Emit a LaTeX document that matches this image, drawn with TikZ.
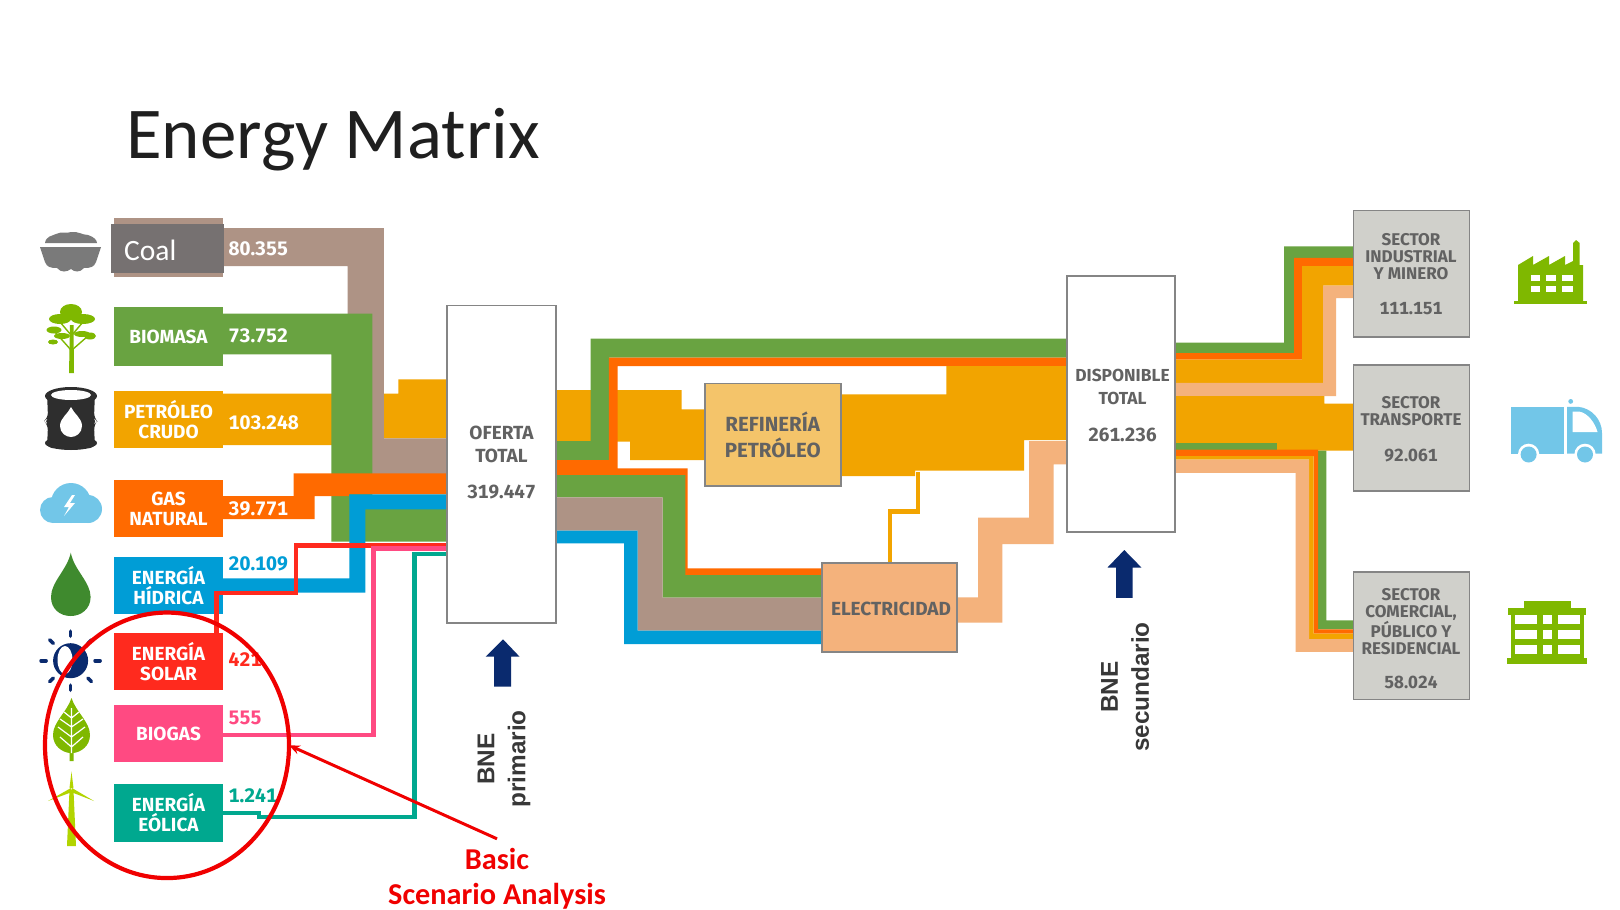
\documentclass[tikz,border=0pt]{standalone}
\usepackage{fontspec}
\setmainfont[Numbers=Monospaced]{Fira Sans}
\newfontfamily\carl{Carlito}
\newfontfamily\libs{Liberation Sans}
\usetikzlibrary{arrows.meta,shapes.geometric}
\definecolor{cbrown}{HTML}{AE9385}
\definecolor{cgreen}{HTML}{69A341}
\definecolor{corange}{HTML}{F2A400}
\definecolor{cgas}{HTML}{FF6A00}
\definecolor{cblue}{HTML}{009DD6}
\definecolor{cred}{HTML}{FF2A1E}
\definecolor{cpink}{HTML}{FF4A82}
\definecolor{cteal}{HTML}{00A88F}
\definecolor{cpeach}{HTML}{F4B27C}
\definecolor{cgray}{HTML}{D0D0CB}
\definecolor{cedge}{HTML}{858585}
\definecolor{ctext}{HTML}{626262}
\definecolor{cnavy}{HTML}{0A2A6E}
\definecolor{clime}{HTML}{7FB800}
\definecolor{csky}{HTML}{72C6E8}
\definecolor{cmark}{HTML}{F00000}
\definecolor{crefi}{HTML}{F4C46A}
\definecolor{cdrop}{HTML}{3F8A2E}
\definecolor{ccoal}{HTML}{767171}
\newcommand{\lblfont}{\fontsize{19}{20}\selectfont\bfseries}
\newcommand{\secfont}{\fontsize{17}{17}\selectfont\bfseries}
\newcommand{\midfont}{\fontsize{19}{18}\selectfont\bfseries}
\newcommand{\valfont}{\fontsize{19.5}{22}\selectfont\bfseries}
\newcommand{\numfont}{\fontsize{19}{22}\selectfont\bfseries}
\newcommand{\bnefont}{\libs\fontsize{24.3}{31}\selectfont\bfseries}
\tikzset{
  srcbox/.style={minimum width=108.3pt,inner sep=0pt,outer sep=0pt,text=white,font=\lblfont,align=center},
  val/.style={anchor=west,inner sep=0pt,font=\valfont},
  whitebox/.style={draw=cedge,line width=1.6pt,fill=white,inner sep=0pt,outer sep=0pt},
  sector/.style={draw=cedge,line width=1.6pt,fill=cgray,minimum width=116pt,inner sep=0pt,outer sep=0pt},
  stxt/.style={inner sep=0pt,text=ctext,font=\secfont,align=center},
  mtxt/.style={inner sep=0pt,text=ctext,font=\midfont,align=center},
  ntxt/.style={inner sep=0pt,text=ctext,font=\numfont},
  wiredraw/.style={line width=4.6pt,line join=miter},
  bne/.style={rotate=90,inner sep=0pt,align=center,font=\bnefont,text=black!78},
  navyarrow/.style={fill=cnavy},
  iconwhite/.style={fill=white}
}
\begin{document}
\begin{tikzpicture}[x=1pt,y=-1pt]
\useasboundingbox (0,0) rectangle (1620,910);
\fill[white] (0,0) rectangle (1620,910);
% title
\node[anchor=base west,inner sep=0pt,text=black!88,font=\carl\fontsize{73}{80}\selectfont] (title) at (126,158) {Energy Matrix};

% ---------- bands left of OFERTA
\fill[corange] (222.7,393.7) -- (398.4,393.7) -- (398.4,379.3) -- (447,379.3) -- (447,438.3) -- (372,438.3) -- (372,445) -- (222.7,445) -- cycle;
\fill[cbrown] (222.7,228) -- (383.8,228) -- (383.8,438.3) -- (447,438.3) -- (447,474) -- (347.5,474) -- (347.5,266) -- (222.7,266) -- cycle;
\fill[cgreen] (222.7,313.7) -- (372.4,313.7) -- (372.4,509) -- (447,509) -- (447,541.7) -- (331.4,541.7) -- (331.4,354.3) -- (222.7,354.3) -- cycle;
\fill[cgas] (222.7,496) -- (293.5,496) -- (293.5,473.3) -- (447,473.3) -- (447,494.3) -- (349,494.3) -- (349,496) -- (314.6,496) -- (314.6,519) -- (222.7,519) -- cycle;
\fill[cblue] (222,578.3) -- (349.4,578.3) -- (349.4,494.3) -- (447,494.3) -- (447,509.3) -- (365.4,509.3) -- (365.4,592.7) -- (222,592.7) -- cycle;

% ---------- source boxes
\node[srcbox,fill=cbrown,minimum height=59.6pt] (carbon) at (168.5,247.5) {};
\node[srcbox,fill=cgreen,minimum height=59pt] (biomasa) at (168.5,336.5) {BIOMASA};
\node[srcbox,fill=corange,minimum height=57.3pt] (petroleo) at (168.5,419.7) {PETRÓLEO\\CRUDO};
\node[srcbox,fill=cgas,minimum height=57pt] (gas) at (168.5,508.5) {GAS\\NATURAL};
\node[srcbox,fill=cblue,minimum height=57.3pt] (hidrica) at (168.5,585.3) {ENERGÍA\\HÍDRICA};
\node[srcbox,fill=cred,minimum height=57pt] (solar) at (168.5,661.5) {ENERGÍA\\SOLAR};
\node[srcbox,fill=cpink,minimum height=57pt] (biogas) at (168.5,733.5) {BIOGAS};
\node[srcbox,fill=cteal,minimum height=57.7pt] (eolica) at (168.5,812.8) {ENERGÍA\\EÓLICA};
\node[anchor=west,fill=ccoal,minimum width=113pt,minimum height=49.3pt,inner sep=0pt,outer sep=0pt] (coalbox) at (111,248.6) {};
\node[anchor=west,inner sep=0pt,text=white,font=\carl\fontsize{29.5}{32}\selectfont] (coal) at (124,250) {Coal};

% thin inflows
\coordinate (redin) at (447,545.5);
\coordinate (pinkin) at (447,548.3);
\coordinate (tealin) at (447,554);
\draw[wiredraw,cred] (216.3,633) -- (216.3,593) -- (296,593) -- (296,545.5) -- (redin);
\draw[wiredraw,cpink] (biogas.east |- 0,735) -- (373.5,735) -- (373.5,548.3) -- (pinkin);
\draw[cteal,line width=4.2pt] (eolica.east |- 0,813) -- (259,813) -- (259,817) -- (414.5,817) -- (414.5,554) -- (tealin);

% values
\node[val,text=white] (v1) at (228.5,248.7) {80.355};
\node[val,text=white] (v2) at (228.5,336) {73.752};
\node[val,text=white] (v3) at (228.5,422.7) {103.248};
\node[val,text=white] (v4) at (228.5,509) {39.771};
\node[val,text=cblue] (v5) at (228.5,564) {20.109};
\node[val,text=cred] (v6) at (228.5,660) {421};
\node[val,text=cpink] (v7) at (228.5,717.7) {555};
\node[val,text=cteal] (v8) at (228.5,796) {1.241};

% ---------- middle bands
\fill[corange] (556,390) -- (681.6,390) -- (681.6,409.3) -- (705.3,409.3) -- (705.3,460) -- (630,460) -- (630,441.7) -- (556,441.7) -- cycle;
\fill[cgreen] (556,441) -- (590.5,441) -- (590.5,338.7) -- (1067.4,338.7) -- (1067.4,357.7) -- (609,357.7) -- (609,460) -- (556,460) -- cycle;
\fill[cgas] (556,460) -- (608.9,460) -- (608.9,357.7) -- (1067.4,357.7) -- (1067.4,366) -- (617.7,366) -- (617.7,468.3) -- (687.7,468.3) -- (687.7,568.3) -- (822,568.3) -- (822,575) -- (685,575) -- (685,475) -- (556,475) -- cycle;
\fill[cgreen] (556,475) -- (685.4,475) -- (685.4,575) -- (822,575) -- (822,597.7) -- (662.5,597.7) -- (662.5,497.3) -- (556,497.3) -- cycle;
\fill[cbrown] (556,497.3) -- (662.5,497.3) -- (662.5,597.7) -- (822,597.7) -- (822,630.7) -- (637.6,630.7) -- (637.6,530.7) -- (556,530.7) -- cycle;
\fill[cblue] (556,530.7) -- (637.6,530.7) -- (637.6,630.7) -- (822,630.7) -- (822,644) -- (624.2,644) -- (624.2,543.3) -- (556,543.3) -- cycle;
\fill[corange] (840.8,394.3) -- (946.4,394.3) -- (946.4,366) -- (1067.4,366) -- (1067.4,440) -- (1024,440) -- (1024,470.7) -- (915,470.7) -- (915,476) -- (840.8,476) -- cycle;
\draw[corange,line width=4.6pt] (918,472) -- (918,511.3) -- (889.8,511.3) -- (889.8,563);
\fill[cpeach] (957,597.3) -- (978.2,597.3) -- (978.2,517.7) -- (1029,517.7) -- (1029,441) -- (1067.4,441) -- (1067.4,464.3) -- (1053.6,464.3) -- (1053.6,544) -- (1002.3,544) -- (1002.3,622.7) -- (957,622.7) -- cycle;

% ---------- right bands
\fill[cgreen] (1175,342.5) -- (1284,342.5) -- (1284,246.4) -- (1353.6,246.4) -- (1353.6,257.9) -- (1294,257.9) -- (1294,353.2) -- (1175,353.2) -- cycle;
\fill[cgas] (1175,353.2) -- (1294,353.2) -- (1294,257.9) -- (1353.6,257.9) -- (1353.6,266) -- (1302,266) -- (1302,359.6) -- (1175,359.6) -- cycle;
\fill[corange] (1175,359.6) -- (1302,359.6) -- (1302,266) -- (1353.6,266) -- (1353.6,285.7) -- (1323,285.7) -- (1323,382.9) -- (1175,382.9) -- cycle;
\fill[cpeach] (1175,382.9) -- (1323,382.9) -- (1323,285.7) -- (1353.6,285.7) -- (1353.6,298.2) -- (1336,298.2) -- (1336,396) -- (1175,396) -- cycle;
\fill[corange] (1175,396) -- (1324.3,396) -- (1324.3,403.6) -- (1353.6,403.6) -- (1353.6,450.7) -- (1175,450.7) -- cycle;
\fill[cgreen] (1175,442.5) rectangle (1276.8,449.6);
\fill[cgreen] (1318,450.7) -- (1326.4,450.7) -- (1326.4,620.4) -- (1353.6,620.4) -- (1353.6,629.3) -- (1318,629.3) -- cycle;
\fill[cgas] (1175,449.6) -- (1318,449.6) -- (1318,629.3) -- (1353.6,629.3) -- (1353.6,633.6) -- (1313.6,633.6) -- (1313.6,456) -- (1175,456) -- cycle;
\fill[corange] (1175,456) -- (1313.6,456) -- (1313.6,633.6) -- (1353.6,633.6) -- (1353.6,639) -- (1309,639) -- (1309,459.6) -- (1175,459.6) -- cycle;
\fill[cpeach] (1175,459.6) -- (1309,459.6) -- (1309,639) -- (1353.6,639) -- (1353.6,651.8) -- (1295.7,651.8) -- (1295.7,472.9) -- (1175,472.9) -- cycle;

% ---------- central boxes
\node[whitebox,minimum width=109pt,minimum height=317.3pt] (oferta) at (501.5,464.3) {};
\node[mtxt] (oft) at (501.5,444) {OFERTA\\[5pt]TOTAL};
\node[ntxt] (ofv) at (501.5,491.7) {319.447};
\node[draw=cedge,line width=1.6pt,fill=crefi,minimum width=135.5pt,minimum height=102.4pt,inner sep=0pt,outer sep=0pt] (refi) at (773,434.5) {};
\node[mtxt,font=\fontsize{20.5}{19}\selectfont\bfseries] (reft) at (772.7,435) {REFINERÍA\\[6pt]PETRÓLEO};
\node[draw=cedge,line width=1.6pt,fill=cpeach,minimum width=135pt,minimum height=89pt,inner sep=0pt,outer sep=0pt] (elec) at (889.5,607.2) {};
\node[mtxt] (elect) at (891,609.3) {ELECTRICIDAD};
\node[whitebox,minimum width=108pt,minimum height=255.8pt] (disp) at (1121,403.9) {};
\node[stxt,font=\fontsize{17.4}{18}\selectfont\bfseries] (dispt) at (1122.5,387) {DISPONIBLE\\[5pt]TOTAL};
\node[ntxt] (dispv) at (1122.5,434.6) {261.236};

% sectors
\node[sector,minimum height=126.6pt] (s1) at (1411.6,273.7) {};
\node[stxt] (s1t) at (1411,257) {SECTOR\\INDUSTRIAL\\Y MINERO};
\node[ntxt,font=\fontsize{17.5}{20}\selectfont\bfseries] (s1v) at (1411,309) {111.151};
\node[sector,minimum height=125.7pt] (s2) at (1411.6,427.9) {};
\node[stxt] (s2t) at (1411,411.2) {SECTOR\\TRANSPORTE};
\node[ntxt,font=\fontsize{17.5}{20}\selectfont\bfseries] (s2v) at (1411,455.4) {92.061};
\node[sector,minimum height=127.6pt] (s3) at (1411.6,635.8) {};
\node[stxt] (s3t) at (1411,621.6) {SECTOR\\COMERCIAL,\\PÚBLICO Y\\RESIDENCIAL};
\node[ntxt,font=\fontsize{17.5}{20}\selectfont\bfseries] (s3v) at (1411,682) {58.024};

% ---------- up arrows and labels
\fill[navyarrow] (503,639.3) -- (519.6,656.7) -- (511,656.7) -- (511,686.7) -- (494,686.7) -- (494,656.7) -- (485.7,656.7) -- cycle;
\node[bne] (bne1) at (504,759) {BNE\\primario};
\fill[navyarrow] (1124.3,550) -- (1141.4,567.5) -- (1132.5,567.5) -- (1132.5,597.9) -- (1116,597.9) -- (1116,567.5) -- (1107.5,567.5) -- cycle;
\node[bne] (bne2) at (1125,687) {BNE\\secundario};

% ---------- icons left
% coal cart
\begin{scope}[black!52]
\fill (45,243) .. controls (46,236) and (52,236) .. (56,234) .. controls (62,231) and (66,234) .. (71,232) .. controls (78,231) and (82,235) .. (88,235) .. controls (94,237) and (97,240) .. (97,243) -- cycle;
\fill (40,247) -- (101,247) -- (96,262) .. controls (94,267) and (91,268) .. (84,268) .. controls (80,273) and (74,272) .. (71,269) .. controls (67,272) and (61,273) .. (57,268) .. controls (50,268) and (47,267) .. (45,262) -- cycle;
\end{scope}
% tree
\begin{scope}[clime]
\fill (70,325) -- (73.5,325) -- (74,373) -- (69,373) -- cycle;
\fill (71,312) ellipse (11 and 8);
\fill (60,319) ellipse (11 and 5);
\fill (83,319) ellipse (12 and 5);
\fill (54,330) ellipse (7.5 and 3.5);
\fill (90,336) ellipse (6 and 3.5);
\fill (53,342) ellipse (5 and 2.5);
\fill (62,336) ellipse (8 and 3);
\fill (82,334) ellipse (8 and 3);
\draw[line width=1.4pt] (71,350) -- (55,332) (72,350) -- (88,336) (71,335) -- (60,322) (72,335) -- (83,322);
\end{scope}
% barrel
\begin{scope}[black!82]
\fill[rounded corners=5pt] (47,392) -- (95,392) -- (94,418) -- (97,421) -- (94,425) -- (95,448) -- (47,448) -- (48,425) -- (44,421) -- (48,418) -- cycle;
\fill (71,396) ellipse (26 and 9);
\fill (71,443) ellipse (26 and 7);
\end{scope}
\fill[iconwhite] (71,395) ellipse (20 and 5);
\fill[iconwhite] (71,407) .. controls (74,414) and (82,418) .. (82,426) .. controls (82,433) and (76,437) .. (71,437) .. controls (66,437) and (60,433) .. (60,426) .. controls (60,418) and (68,414) .. (71,407) -- cycle;
% cloud
\begin{scope}[csky]
\fill (71,503) circle (20);
\fill (53,510) circle (13);
\fill (88,509) circle (14);
\fill (53,505) rectangle (88,523);
\end{scope}
\fill[iconwhite] (72,495) -- (64,507) -- (69,507) -- (64,516) -- (75,503) -- (70,503) -- (75,495) -- cycle;
% water drop
\fill[cdrop] (70.8,552.7) .. controls (74,570) and (90.6,582) .. (90.6,597) .. controls (90.6,609) and (81,616) .. (70.8,616) .. controls (60,616) and (51,609) .. (51,597) .. controls (51,582) and (67,570) .. (70.8,552.7) -- cycle;
% sun
\fill[cnavy] (70.6,660.7) circle (17.5);
\fill[iconwhite] (65,660) ellipse (7.5 and 14);
\foreach \a in {0,45,...,315}
  \draw[cnavy,line width=3.6pt,line cap=round] (70.6,660.7) ++(\a:24.5) -- ++(\a:5);
% leaf
\fill[clime] (71.5,698) .. controls (76,712) and (90,722) .. (90,735) .. controls (90,746) and (81,752) .. (73.5,753) -- (73.5,761) -- (69.5,761) -- (69.5,753) .. controls (62,752) and (53,746) .. (53,735) .. controls (53,722) and (67,712) .. (71.5,698) -- cycle;
\draw[white,line width=1.2pt] (71.5,708) -- (71.5,753) (71.5,718) -- (64,712) (71.5,718) -- (79,712) (71.5,727) -- (60,719) (71.5,727) -- (83,719) (71.5,737) -- (58,727) (71.5,737) -- (85,727) (71.5,747) -- (60,737) (71.5,747) -- (83,737);
% turbine
\begin{scope}[clime!60!yellow]
\fill (69.5,790) -- (73.5,790) -- (76,846) -- (67,846) -- cycle;
\fill (71.5,771.7) -- (73.5,788) -- (69.5,788) -- cycle;
\fill (94,801) -- (72,788) -- (71,792) -- cycle;
\fill (48,801) -- (71,788) -- (72,792) -- cycle;
\end{scope}

% ---------- icons right
% factory
\begin{scope}[clime]
\fill (1514,300.7) rectangle (1587,303.6);
\fill (1518,301) -- (1518,265) -- (1533,256) -- (1533,265) -- (1549,256) -- (1549,265) -- (1565,256) -- (1565,265) -- (1573,261) -- (1573,243) -- (1576,240) -- (1579.6,243) -- (1579.6,265) -- (1583,265) -- (1583,301) -- cycle;
\end{scope}
\foreach \xa/\xb in {1530.7/1540.4,1546.4/1556.4,1561.8/1572.5}{
  \fill[iconwhite] (\xa,275) rectangle (\xb,281);
  \fill[iconwhite] (\xa,285.7) rectangle (\xb,291.8);
}
% truck
\begin{scope}[csky]
\fill (1510.7,406.8) rectangle (1563.6,453.6);
\fill (1567,453.6) -- (1567,406.8) -- (1578,406.8) .. controls (1592,408) and (1602,420) .. (1602,433) -- (1602,453.6) -- cycle;
\fill (1570.7,401.4) circle (2.4);
\end{scope}
\fill[iconwhite] (1572.5,411.5) -- (1579,411.5) .. controls (1588,413) and (1595,423) .. (1597.5,432) -- (1572.5,432) -- cycle;
\foreach \cx in {1528.6,1585}{
  \fill[iconwhite] (\cx,454.3) circle (10.6);
  \fill[csky] (\cx,454.5) circle (8);
}
% building
\begin{scope}[clime]
\fill (1524,600.7) rectangle (1571,609);
\fill (1508,608) rectangle (1586,615);
\fill (1511,614) rectangle (1584,659);
\fill (1507,658) rectangle (1587,664);
\end{scope}
\foreach \ya/\yb in {615/624,630/639,645.3/654.3}
  \foreach \xa/\xb in {1515/1537,1543/1552,1558/1580}
    \fill[iconwhite] (\xa,\ya) rectangle (\xb,\yb);

% ---------- annotation
\node[draw=cmark,line width=4.2pt,ellipse,minimum width=244pt,minimum height=265.5pt,inner sep=0pt,outer sep=0pt] (mark) at (167,745.3) {};
\node[inner sep=0pt,text=cmark,font=\carl\fontsize{30.3}{35}\selectfont\bfseries,align=center] (note) at (497,878.5) {Basic\\Scenario Analysis};
\draw[cmark,line width=3pt,-{Stealth[length=11pt,width=9pt]}] ([yshift=9pt]note.north) -- (mark.east);
\end{tikzpicture}
\end{document}
